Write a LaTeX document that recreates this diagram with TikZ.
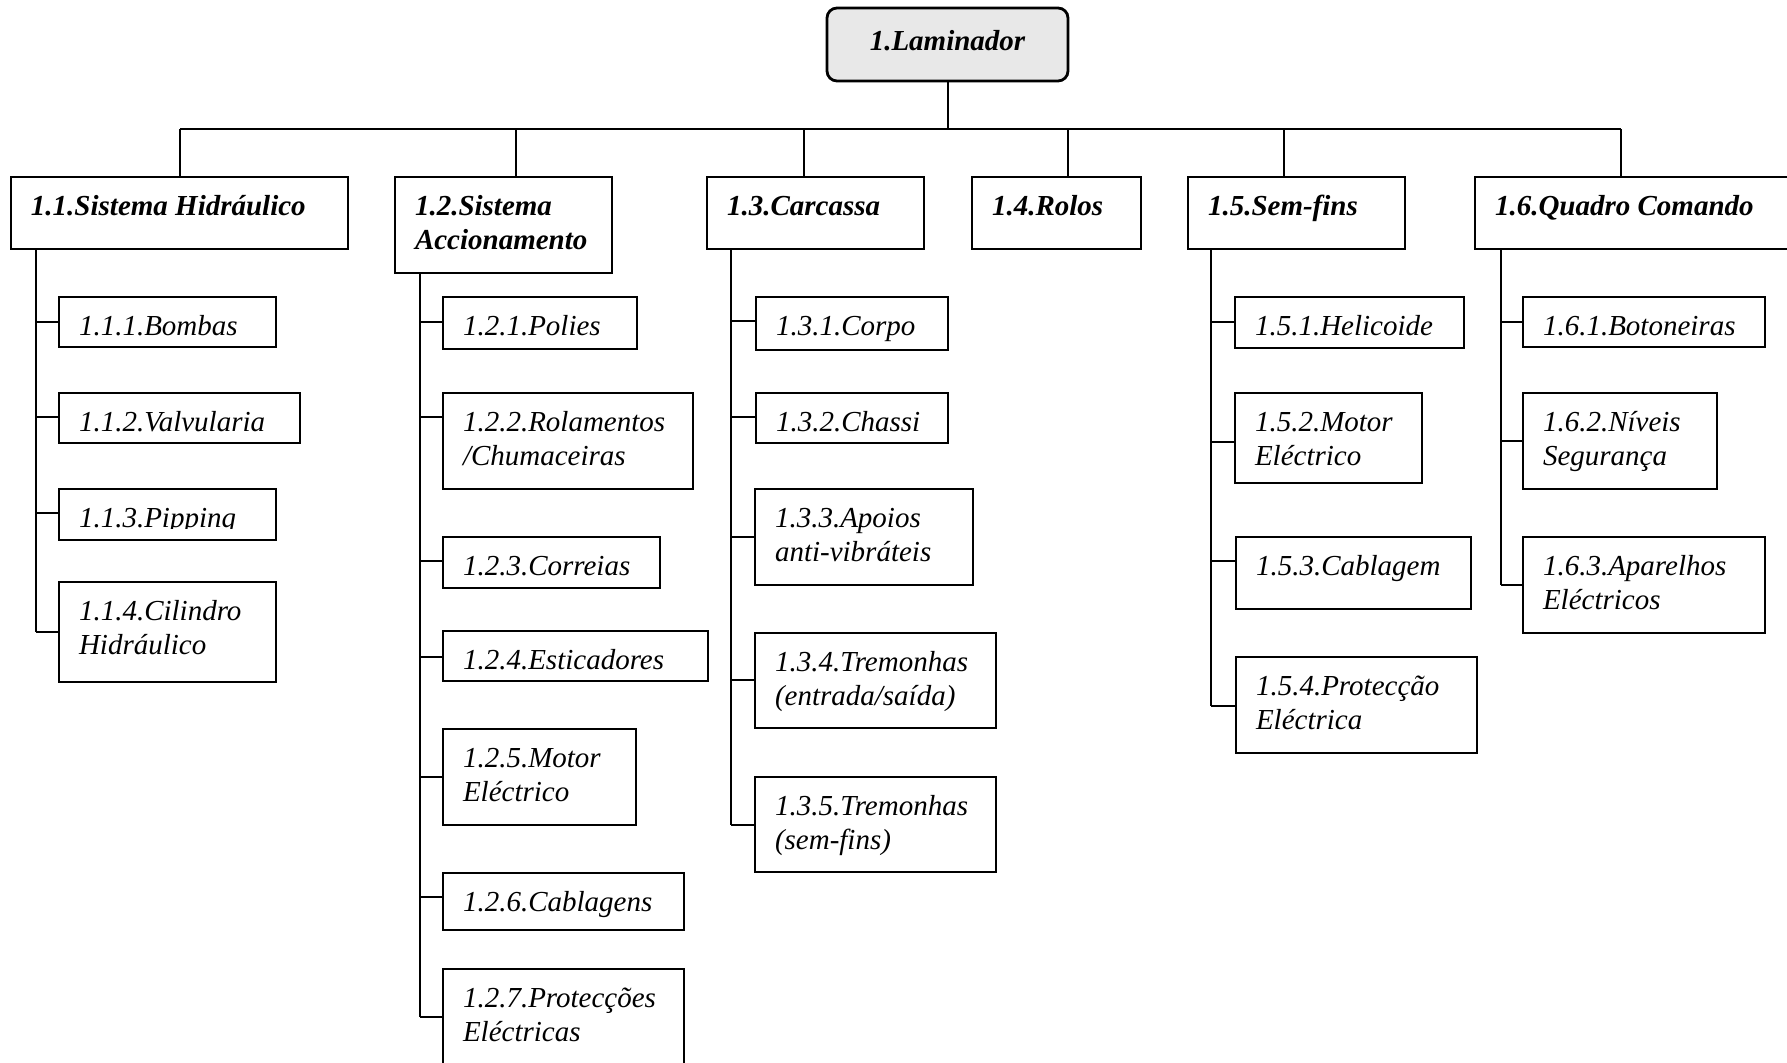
\documentclass[tikz,border=0pt]{standalone}
\usepackage{fontspec}
\setmainfont{Liberation Serif}
\usetikzlibrary{fit}

\tikzset{
  box/.style={draw, line width=1.4pt, inner sep=0pt},
  rootbox/.style={box, rounded corners=5pt, fill=black!9},
  link/.style={line width=1.2pt},
  txt/.style={inner sep=0pt, align=left, font=\itshape\fontsize{14.5pt}{17pt}\selectfont},
  hdtxt/.style={txt, font=\bfseries\itshape\fontsize{14.5pt}{17pt}\selectfont},
}

% #1 text style, #2 name, #3-#6 corners (x1,y1,x2,y2), #7 label
\newcommand\wbsbox[7]{%
  \node[box, fit={(#3,#4) (#5,#6)}] (#2) {};
  \node[#1, anchor=north west] (#2-t) at ([xshift=10.5pt,yshift=-8pt]#2.north west) {\strut #7};}

\begin{document}
\begin{tikzpicture}[x=0.5pt,y=-0.5pt]
\useasboundingbox (0,0) rectangle (1787,1063);
\clip (0,0) rectangle (1787,1063);

% top of the breakdown
\node[rootbox, fit={(827,8) (1068,81)}] (root) {};
\node[hdtxt, anchor=base] (root-t) at ([yshift=-22pt]root.north) {1.Laminador};

% first level
\wbsbox{hdtxt}{n11}{11}{177}{348}{249}{1.1.Sistema Hidráulico}
\wbsbox{hdtxt}{n12}{395}{177}{612}{273}{1.2.Sistema\\Accionamento}
\wbsbox{hdtxt}{n13}{707}{177}{924}{249}{1.3.Carcassa}
\wbsbox{hdtxt}{n14}{972}{177}{1141}{249}{1.4.Rolos}
\wbsbox{hdtxt}{n15}{1188}{177}{1405}{249}{1.5.Sem-fins}
\wbsbox{hdtxt}{n16}{1475}{177}{1800}{249}{1.6.Quadro Comando}

% 1.1 children
\wbsbox{txt}{n111}{59}{297}{276}{347}{1.1.1.Bombas}
\wbsbox{txt}{n112}{59}{393}{300}{443}{1.1.2.Valvularia}
\node[box, fit={(59,489) (276,540)}] (n113) {};
\begin{scope}
  \clip (59,489) rectangle (276,529);
  \node[txt, anchor=north west] (n113-t) at ([xshift=10.5pt,yshift=-8pt]n113.north west) {\strut 1.1.3.Pipping};
\end{scope}
\wbsbox{txt}{n114}{59}{582}{276}{682}{1.1.4.Cilindro\\Hidráulico}

% 1.2 children
\wbsbox{txt}{n121}{443}{297}{637}{349}{1.2.1.Polies}
\wbsbox{txt}{n122}{443}{393}{693}{489}{1.2.2.Rolamentos\\/Chumaceiras}
\wbsbox{txt}{n123}{443}{537}{660}{588}{1.2.3.Correias}
\wbsbox{txt}{n124}{443}{631}{708}{681}{1.2.4.Esticadores}
\wbsbox{txt}{n125}{443}{729}{636}{825}{1.2.5.Motor\\Eléctrico}
\wbsbox{txt}{n126}{443}{873}{684}{930}{1.2.6.Cablagens}
\wbsbox{txt}{n127}{443}{969}{684}{1090}{1.2.7.Protecções\\Eléctricas}

% 1.3 children
\wbsbox{txt}{n131}{756}{297}{948}{350}{1.3.1.Corpo}
\wbsbox{txt}{n132}{756}{393}{948}{443}{1.3.2.Chassi}
\wbsbox{txt}{n133}{755}{489}{973}{585}{1.3.3.Apoios\\anti-vibráteis}
\wbsbox{txt}{n134}{755}{633}{996}{728}{1.3.4.Tremonhas\\(entrada/saída)}
\wbsbox{txt}{n135}{755}{777}{996}{872}{1.3.5.Tremonhas\\(sem-fins)}

% 1.5 children
\wbsbox{txt}{n151}{1235}{297}{1464}{348}{1.5.1.Helicoide}
\wbsbox{txt}{n152}{1235}{393}{1422}{483}{1.5.2.Motor\\Eléctrico}
\wbsbox{txt}{n153}{1236}{537}{1471}{609}{1.5.3.Cablagem}
\wbsbox{txt}{n154}{1236}{657}{1477}{753}{1.5.4.Protecção\\Eléctrica}

% 1.6 children
\wbsbox{txt}{n161}{1523}{297}{1765}{347}{1.6.1.Botoneiras}
\wbsbox{txt}{n162}{1523}{393}{1717}{489}{1.6.2.Níveis\\Segurança}
\wbsbox{txt}{n163}{1523}{537}{1765}{633}{1.6.3.Aparelhos\\Eléctricos}

% bus from the top box to the first level
\coordinate (b0) at (948,129);
\coordinate (b11) at (180,129);
\coordinate (b12) at (516,129);
\coordinate (b13) at (804,129);
\coordinate (b14) at (1068,129);
\coordinate (b15) at (1284,129);
\coordinate (b16) at (1621,129);
\draw[link] (b0 |- root.south) -- (b0);
\draw[link] (b11) -- (b16);
\foreach \n in {11,...,16} \draw[link] (b\n) -- (b\n |- n\n.north);

% branch points on the vertical spines
\coordinate (k111) at (36,322);
\coordinate (k112) at (36,417);
\coordinate (k113) at (36,513);
\coordinate (k114) at (36,632);

\coordinate (k121) at (420,322);
\coordinate (k122) at (420,417);
\coordinate (k123) at (420,561);
\coordinate (k124) at (420,657);
\coordinate (k125) at (420,777);
\coordinate (k126) at (420,897);
\coordinate (k127) at (420,1017);

\coordinate (k131) at (731,321);
\coordinate (k132) at (731,417);
\coordinate (k133) at (731,537);
\coordinate (k134) at (731,680);
\coordinate (k135) at (731,825);

\coordinate (k151) at (1211,322);
\coordinate (k152) at (1211,442);
\coordinate (k153) at (1211,561);
\coordinate (k154) at (1211,706);

\coordinate (k161) at (1501,322);
\coordinate (k162) at (1501,441);
\coordinate (k163) at (1501,585);

% spines
\draw[link] (n11.south -| k114) -- (k114);
\draw[link] (n12.south -| k127) -- (k127);
\draw[link] (n13.south -| k135) -- (k135);
\draw[link] (n15.south -| k154) -- (k154);
\draw[link] (n16.south -| k163) -- (k163);

% branches
\foreach \c in {111,...,114} \draw[link] (k\c) -- (k\c -| n\c.west);
\foreach \c in {121,...,127} \draw[link] (k\c) -- (k\c -| n\c.west);
\foreach \c in {131,...,135} \draw[link] (k\c) -- (k\c -| n\c.west);
\foreach \c in {151,...,154} \draw[link] (k\c) -- (k\c -| n\c.west);
\foreach \c in {161,...,163} \draw[link] (k\c) -- (k\c -| n\c.west);
\end{tikzpicture}
\end{document}
